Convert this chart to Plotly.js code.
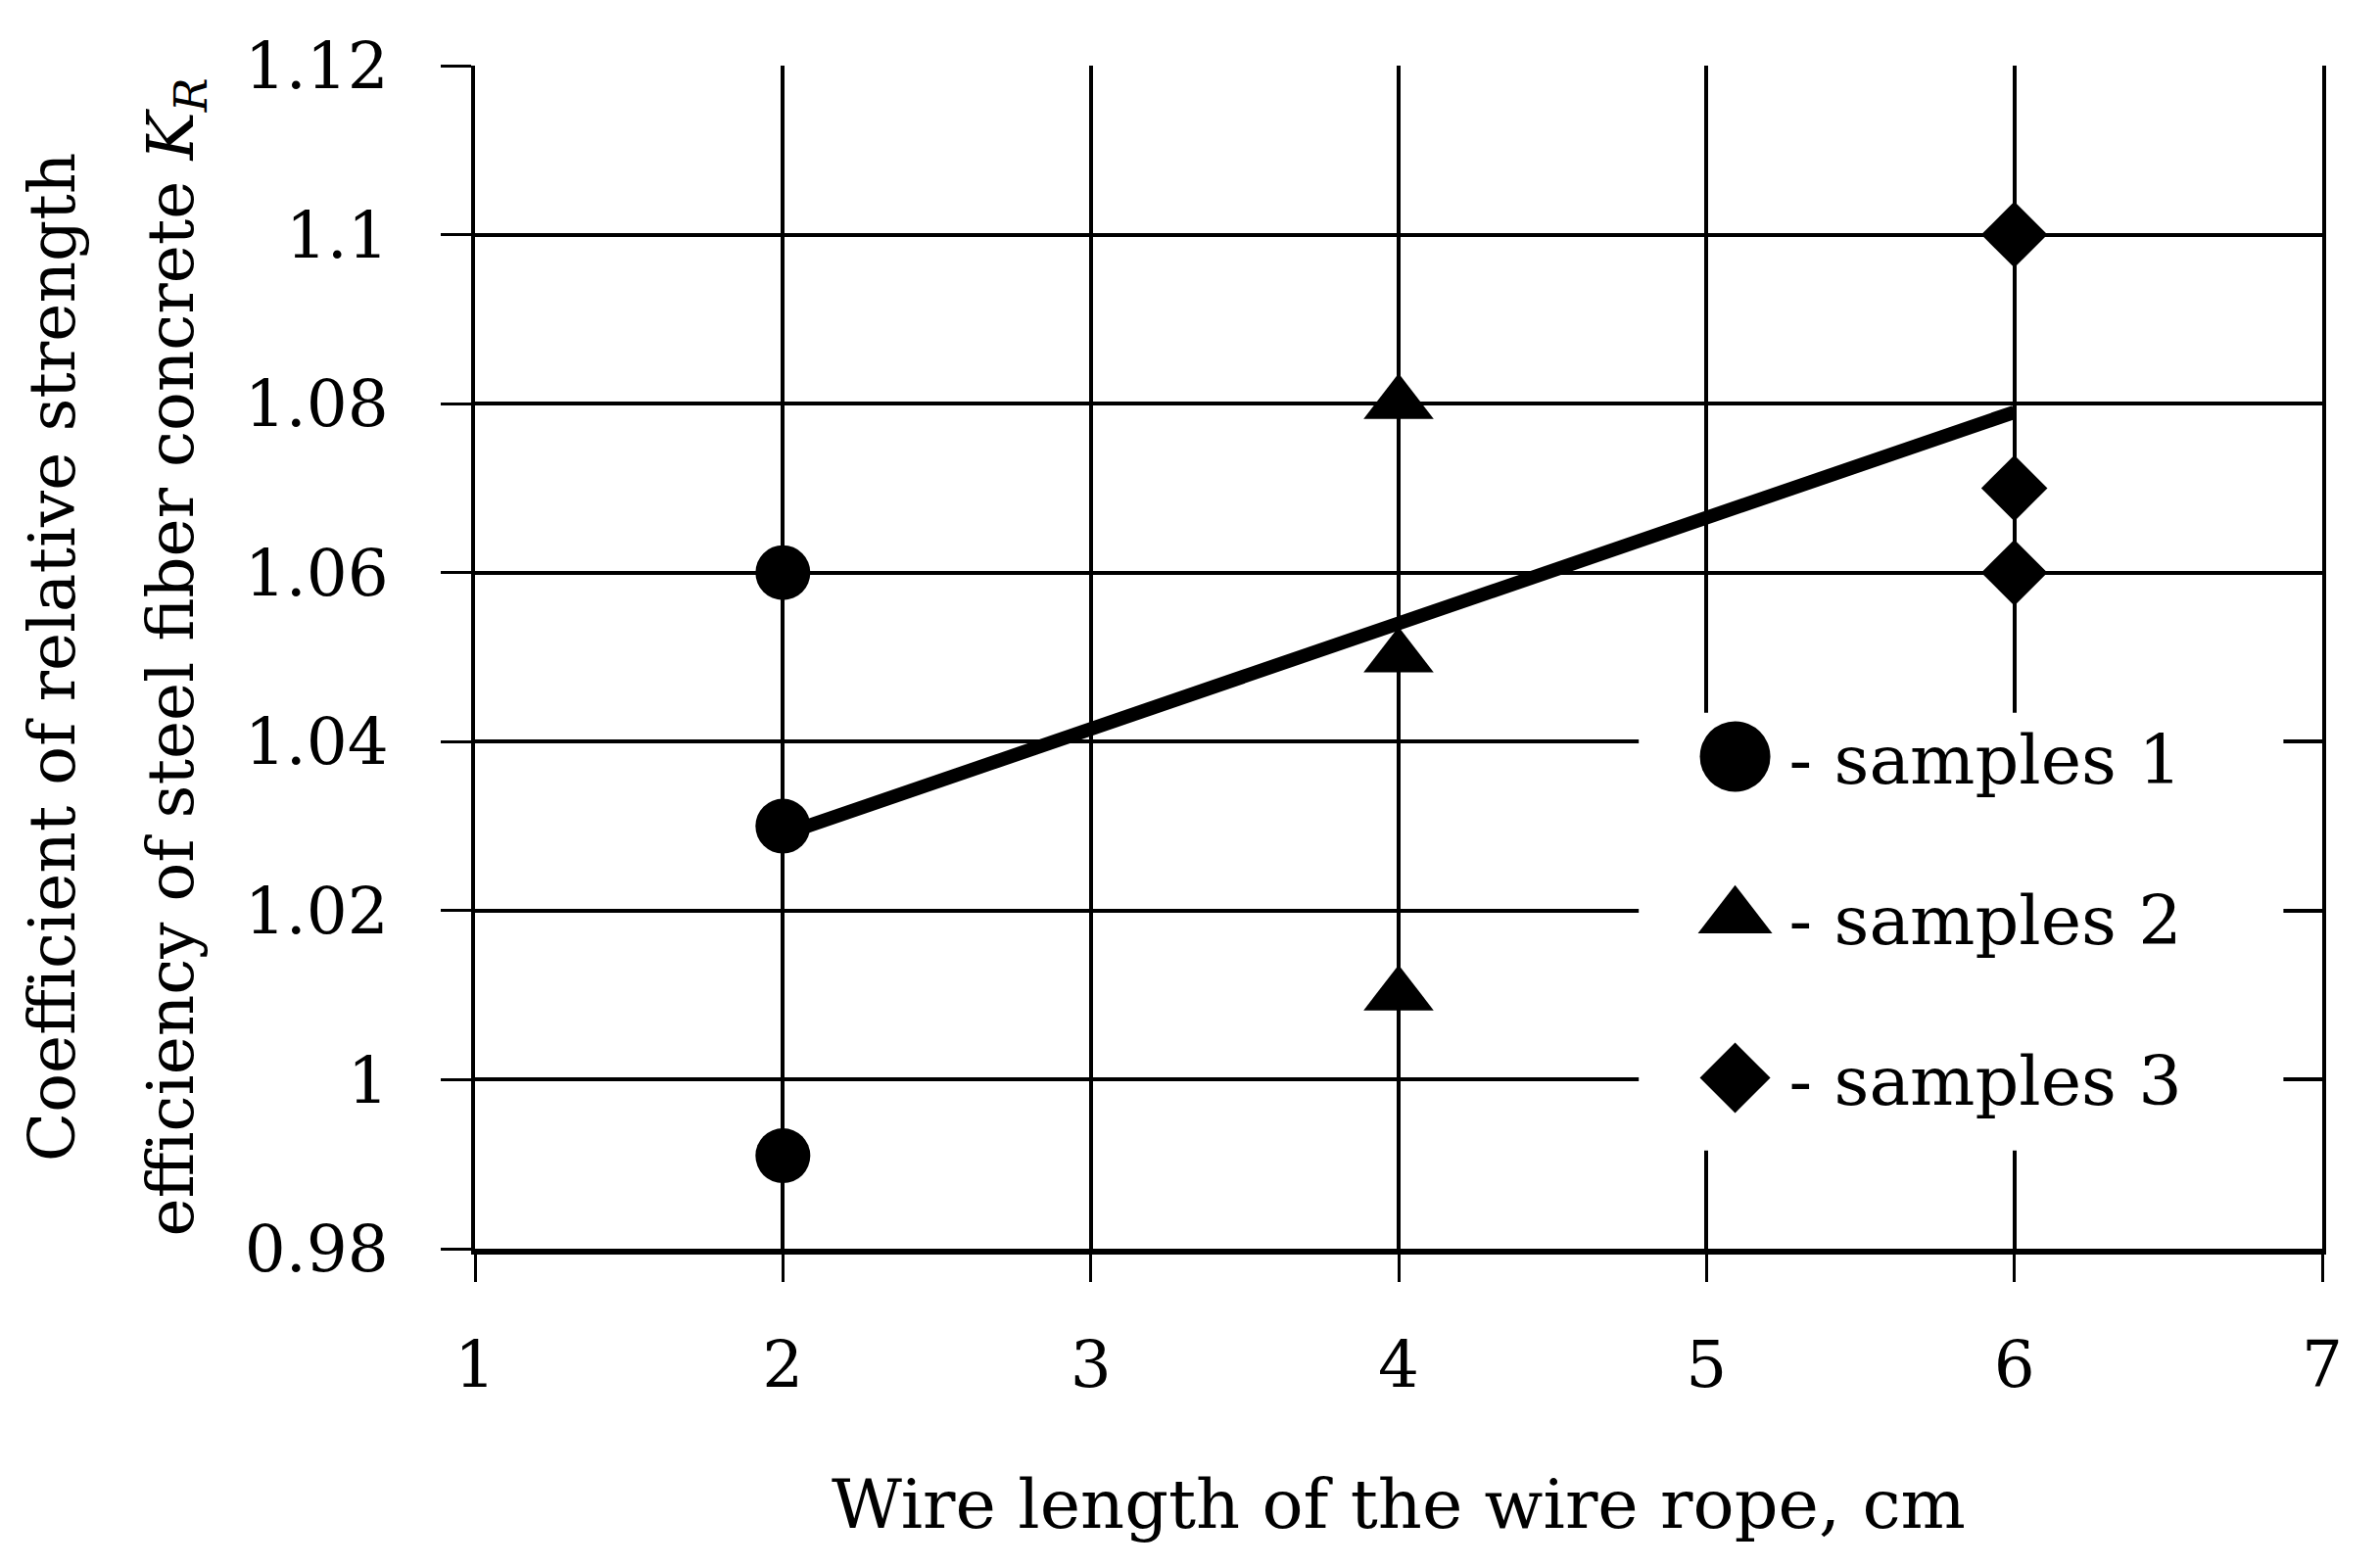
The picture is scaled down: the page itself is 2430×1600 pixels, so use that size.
<!DOCTYPE html>
<html><head><meta charset="utf-8">
<script src="https://cdn.plot.ly/plotly-3.0.1.min.js"></script>
<style>html,body{margin:0;padding:0;background:#fff;} #chart{width:2430px;height:1600px;}</style>
</head><body><div id="chart"></div>
<script>
// ---- data ----
const xTickVals = [1, 2, 3, 4, 5, 6, 7];
const xTickText = ['1', '2', '3', '4', '5', '6', '7'];
const yTickVals = [0.98, 1.0, 1.02, 1.04, 1.06, 1.08, 1.10, 1.12];
const yTickText = ['0.98', '1', '1.02', '1.04', '1.06', '1.08', '1.1', '1.12'];

const samples1X = [2, 2, 2];
const samples1Y = [1.06, 1.03, 0.991];
const samples2X = [4, 4, 4];
const samples2Y = [1.08, 1.05, 1.01];
const samples3X = [6, 6, 6];
const samples3Y = [1.10, 1.07, 1.06];
const trendX = [2, 6];
const trendY = [1.029, 1.079];
const seriesNames = ['- samples 1', '- samples 2', '- samples 3'];

const xTitle = 'Wire length of the wire rope, cm';
const yTitleLine1 = 'Coefficient of relative strength';
const yTitleLine2 = 'efficiency of steel fiber concrete <i>K</i><sub><i>R</i></sub>';

// ---- chart ----
const FONT = 'DejaVu Serif, Liberation Serif, serif';

const traces = [
  {x: trendX, y: trendY, mode: 'lines', line: {color: '#000', width: 14}, showlegend: false, hoverinfo: 'skip'},
  {x: samples1X, y: samples1Y, mode: 'markers', name: seriesNames[0], legendgroup: 'g1',
   marker: {symbol: 'circle', size: 56, color: '#000'}},
  {x: samples2X, y: samples2Y, mode: 'markers', name: seriesNames[1], legendgroup: 'g2',
   marker: {symbol: 'triangle-up', size: 62, color: '#000'}},
  {x: samples3X, y: samples3Y, mode: 'markers', name: seriesNames[2], legendgroup: 'g3',
   marker: {symbol: 'diamond', size: 52, color: '#000'}}
];

const layout = {
  width: 2430, height: 1600,
  paper_bgcolor: '#fff', plot_bgcolor: '#fff',
  margin: {l: 485, r: 59, t: 67, b: 325},
  font: {family: FONT, color: '#000', size: 64},
  showlegend: true,
  legend: {
    x: 0.653, xanchor: 'left', y: 0.459, yanchor: 'top',
    bgcolor: 'rgba(255,255,255,0)', borderwidth: 0,
    font: {family: FONT, size: 70, color: '#000'},
    itemwidth: 100, tracegroupgap: 70, traceorder: 'grouped', itemsizing: 'constant'
  },
  shapes: [{
    type: 'rect', xref: 'paper', yref: 'paper', layer: 'above',
    x0: 0.630, x1: 0.979, y0: 0.083, y1: 0.453,
    fillcolor: '#fff', line: {width: 0}
  }],
  xaxis: {
    range: [1, 7], tickmode: 'array', tickvals: xTickVals, ticktext: xTickText,
    ticks: 'outside', ticklen: 28, tickwidth: 3, tickcolor: '#000',
    showgrid: true, gridcolor: '#000', gridwidth: 4,
    showline: true, linecolor: '#000', linewidth: 6, zeroline: false,
    tickfont: {family: FONT, size: 66, color: '#000'}, ticklabelstandoff: 28,
    title: {text: xTitle, font: {family: FONT, size: 70, color: '#000'}, standoff: 82},
    automargin: false, fixedrange: true
  },
  yaxis: {
    range: [0.98, 1.12], tickmode: 'array', tickvals: yTickVals, ticktext: yTickText,
    ticks: 'outside', ticklen: 31, tickwidth: 3, tickcolor: '#000',
    showgrid: true, gridcolor: '#000', gridwidth: 4,
    showline: true, linecolor: '#000', linewidth: 4, mirror: true, zeroline: false,
    tickfont: {family: FONT, size: 66, color: '#000'}, ticklabelstandoff: 40,
    title: {
      text: '<span style="font-size:66px">' + yTitleLine1 + '</span><br><span style="font-size:66px">' + yTitleLine2 + '</span>',
      font: {family: FONT, size: 93, color: '#000'}, standoff: 22
    },
    automargin: false, fixedrange: true
  }
};

Plotly.newPlot('chart', traces, layout, {staticPlot: true, displayModeBar: false}).then(function (gd) {
  const targets = [72, 76, 72];
  const items = gd.querySelectorAll('.legend .traces');
  items.forEach(function (item, i) {
    const p = item.querySelector('path.scatterpts');
    if (!p) return;
    const bb = p.getBBox();
    if (!bb.width) return;
    const k = targets[i] / bb.width;
    const t = p.getAttribute('transform') || '';
    p.setAttribute('transform', t + ' scale(' + k + ')');
  });
});
</script>
</body></html>
